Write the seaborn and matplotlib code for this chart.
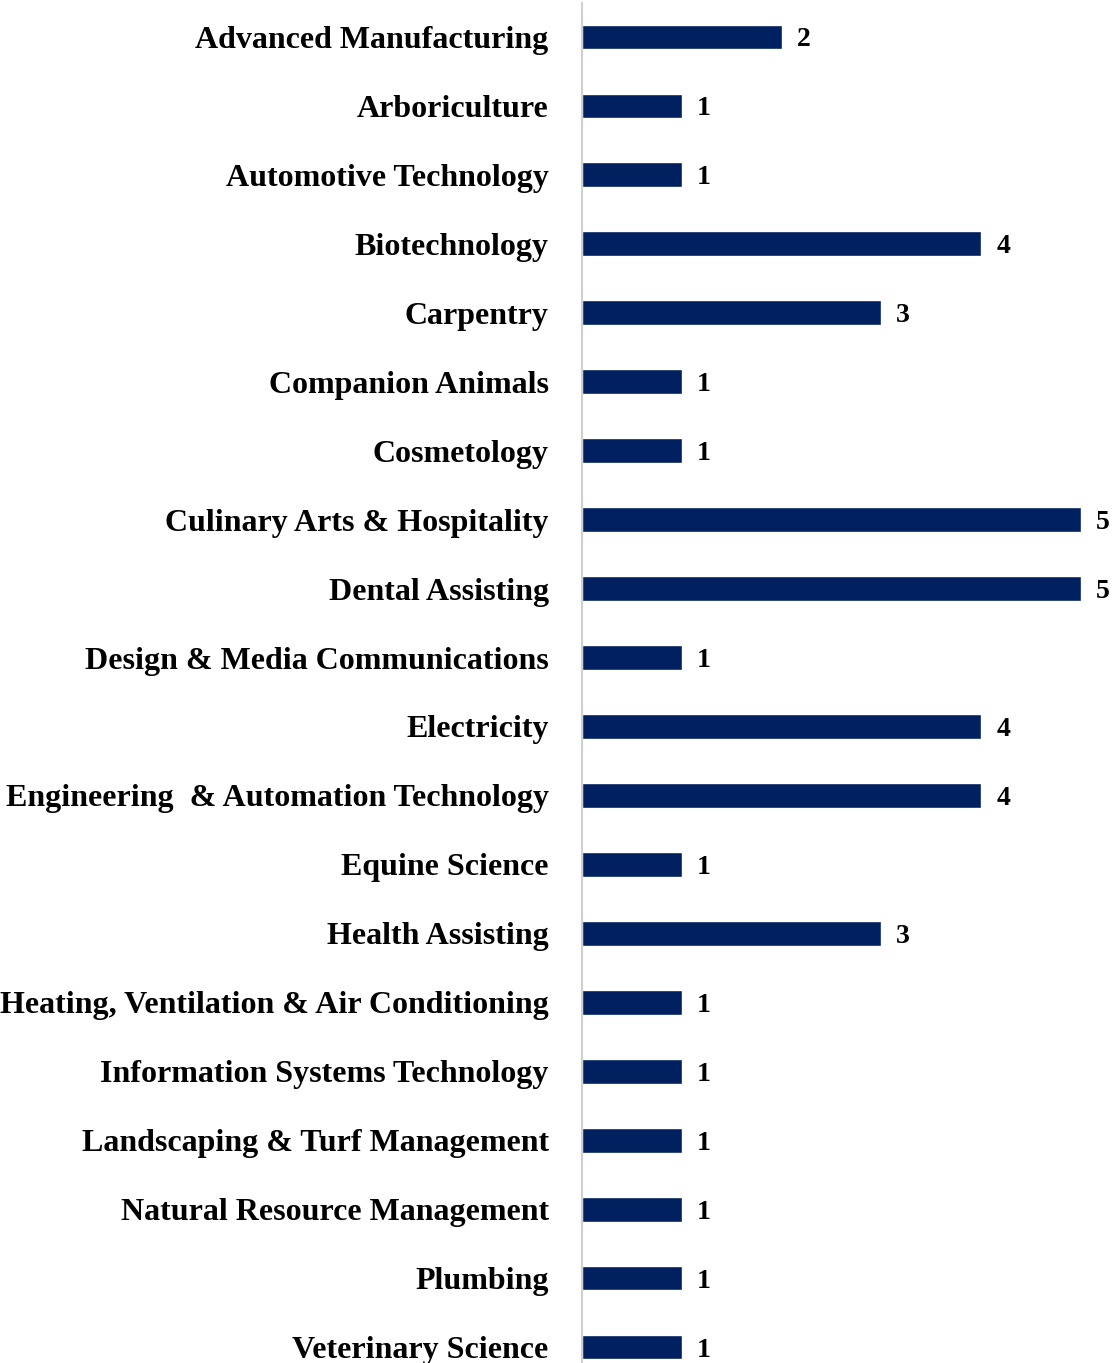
import matplotlib
matplotlib.use("Agg")
import matplotlib.pyplot as plt
import seaborn as sns
import pandas as pd

categories = [
    "Advanced Manufacturing",
    "Arboriculture",
    "Automotive Technology",
    "Biotechnology",
    "Carpentry",
    "Companion Animals",
    "Cosmetology",
    "Culinary Arts & Hospitality",
    "Dental Assisting",
    "Design & Media Communications",
    "Electricity",
    "Engineering  & Automation Technology",
    "Equine Science",
    "Health Assisting",
    "Heating, Ventilation & Air Conditioning",
    "Information Systems Technology",
    "Landscaping & Turf Management",
    "Natural Resource Management",
    "Plumbing",
    "Veterinary Science",
]
values = [2, 1, 1, 4, 3, 1, 1, 5, 5, 1, 4, 4, 1, 3, 1, 1, 1, 1, 1, 1]

df = pd.DataFrame({"cat": categories, "val": values})

sns.set_theme(style="white")
plt.rcParams["font.family"] = ["Liberation Serif", "DejaVu Serif"]

fig = plt.figure(figsize=(11.16, 13.63), dpi=100)
ax = fig.add_axes([582 / 1116, 0.0, (1081 - 582) / 1116, 1 - 3 / 1363])

sns.barplot(data=df, y="cat", x="val", orient="h", color="#002060",
            width=0.36, ax=ax, saturation=1)

ax.set_xlim(0, 5)
ax.set_ylim(19.232, -0.493)
ax.set_xlabel("")
ax.set_ylabel("")
ax.set_xticks([])
ax.tick_params(axis="y", length=0, pad=24)
for lab in ax.get_yticklabels():
    lab.set_fontsize(23)
    lab.set_fontweight("bold")
    lab.set_color("black")
for s in ["top", "right", "bottom"]:
    ax.spines[s].set_visible(False)
ax.spines["left"].set_color("#d0d0d0")
ax.spines["left"].set_linewidth(1.5)

for i, v in enumerate(values):
    ax.text(v + 0.15, i, str(v), va="center_baseline", ha="left", fontsize=20,
            fontweight="bold", color="black", clip_on=False)

fig.savefig("out.png", dpi=100)
